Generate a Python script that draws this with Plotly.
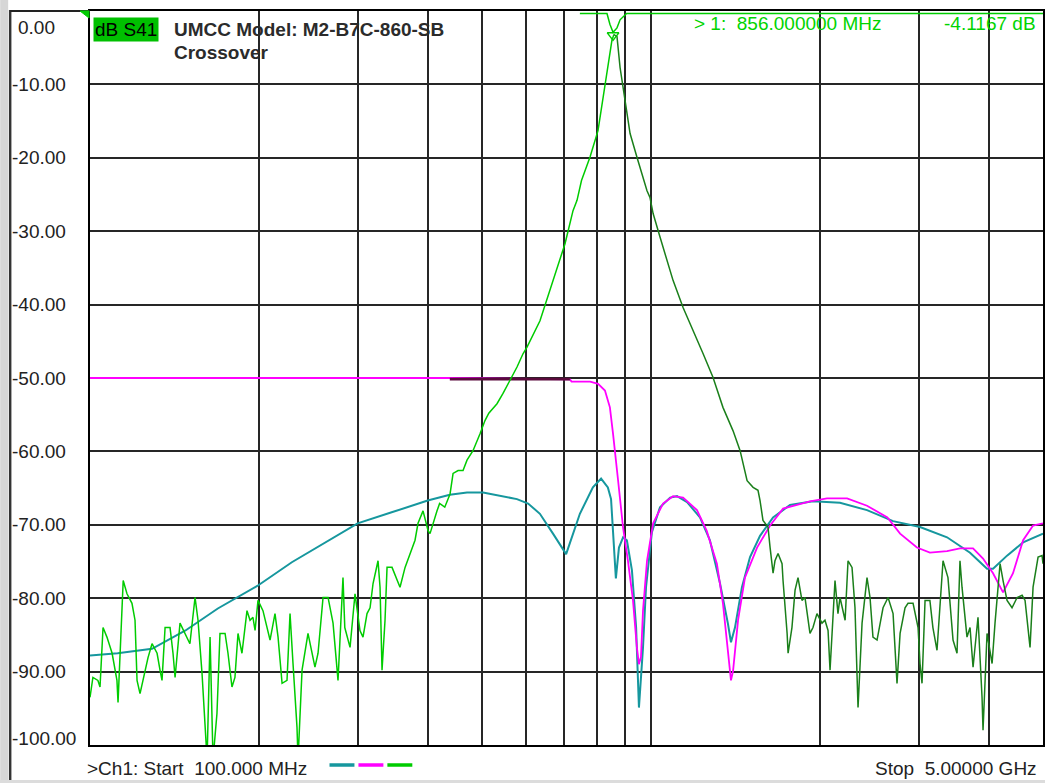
import math
import plotly.graph_objects as go

# ---------------- data (frequency in MHz, level in dB) ----------------
teal_f = [100, 112, 129, 148, 169, 199, 229, 262, 300, 345,
          400, 438, 470, 502, 538, 577, 604, 634, 669, 706,
          747, 788, 815, 838, 849, 856, 866, 877, 892, 906,
          925, 941, 952, 968, 980, 1004, 1038, 1082, 1113, 1160,
          1223, 1274, 1328, 1372, 1389, 1412, 1453, 1502, 1565, 1651,
          1770, 1945, 2173, 2428, 2702, 3018, 3372, 3706, 3974, 4073,
          4314, 4608, 5000]
teal_db = [-87.8, -87.5, -86.9, -84.4, -81.4, -78.3, -75.1, -72.5, -69.8, -68.3,
           -66.7, -65.9, -65.6, -65.6, -66.0, -66.5, -67.1, -68.5, -71.2, -74.0,
           -68.5, -64.9, -63.7, -64.9, -66.5, -70.4, -77.3, -73.1, -71.7, -72.1,
           -76.2, -84.0, -94.9, -86.7, -78.5, -71.0, -67.6, -66.3, -66.1, -66.9,
           -69.0, -72.1, -78.0, -83.5, -86.0, -84.0, -78.5, -74.4, -71.5, -69.0,
           -67.3, -66.8, -67.0, -68.0, -69.5, -70.3, -71.7, -73.8, -76.0, -76.0,
           -74.2, -72.4, -71.2]

mag_f = [100, 438, 717, 722, 779, 805, 828, 845, 856, 866,
         874, 881, 892, 910, 929, 944, 952, 960, 968, 984,
         1009, 1051, 1095, 1141, 1208, 1257, 1311, 1344, 1372, 1389,
         1401, 1430, 1471, 1546, 1631, 1720, 1921, 2060, 2237, 2428,
         2640, 2781, 2980, 3143, 3372, 3556, 3752, 3909, 4073, 4244,
         4421, 4608, 4800, 5000]
mag_db = [-50.0, -50.0, -50.2, -50.5, -50.5, -50.8, -51.7, -54.0, -57.6, -60.8,
          -64.0, -66.5, -70.4, -74.9, -80.3, -86.7, -89.0, -88.0, -81.7, -74.9,
          -69.8, -67.1, -66.1, -66.3, -68.0, -70.8, -75.3, -80.7, -87.5, -91.2,
          -89.9, -83.0, -77.2, -73.1, -70.1, -67.8, -66.8, -66.4, -66.4, -67.4,
          -69.0, -71.2, -73.1, -73.8, -73.6, -73.2, -73.2, -74.6, -76.6, -79.2,
          -76.6, -72.1, -70.1, -69.8]

dark_f = [438, 717]
dark_db = [-50.15, -50.15]

gl_f = [100, 101.2, 103.3, 104.2, 105.5, 107.2, 109.5, 111.7, 112.2, 114,
        114.6, 116.4, 118.8, 120.3, 121.3, 122.8, 124.3, 126.9, 129, 131.7,
        133.3, 134.4, 136.1, 138.9, 140.6, 141.8, 144.7, 147.7, 150.7, 153.9,
        155.8, 158.4, 160.4, 161.7, 163.7, 165.7, 168.4, 170.5, 174.1, 176.2,
        179.1, 181.3, 183.6, 186.6, 190.5, 192.9, 195.2, 196.9, 199.3, 203.4,
        209.4, 213.7, 216.4, 220, 224.5, 227.3, 230.1, 233.9, 234.9, 238.8,
        244.7, 251.8, 255, 260.3, 265.7, 271.2, 276.8, 281.4, 282.5, 284.6,
        290.8, 296.8, 302.9, 306.7, 311.8, 315.7, 319.6, 326.2, 328.9, 331.6,
        335.7, 338.5, 345.5, 357, 364.5, 379.7, 384.4, 392.4, 400.6, 403.8,
        408.8, 415.6, 420, 429, 438.4, 443.9, 453.1, 462.4, 470, 481.7,
        495.8, 506, 514, 531.6, 544.9, 560.7, 577.1, 591.5, 601.3, 634.2,
        669, 702.8, 726.3, 738.3, 752, 778.8, 804.7, 821, 838, 852, 859]
gl_db = [-93.5, -90.8, -91.2, -92.1, -84.0, -85.3, -87.5, -91.2, -94.2, -82.1,
         -77.6, -79.4, -80.7, -83.0, -91.2, -93.0, -91.2, -88.1, -86.2, -87.5,
         -89.8, -91.2, -84.0, -84.0, -87.5, -90.8, -83.4, -84.8, -86.2, -79.9,
         -83.0, -90.3, -97.6, -102, -85.3, -102, -95.7, -84.8, -84.8, -87.5,
         -92.1, -90.8, -84.8, -87.5, -81.7, -83.0, -82.6, -84.4, -80.3, -81.7,
         -85.7, -82.1, -85.3, -91.6, -91.2, -82.1, -88.9, -97.6, -102, -89.8,
         -84.8, -89.4, -87.5, -79.9, -79.9, -83.4, -91.2, -79.9, -77.2, -84.0,
         -86.7, -79.4, -84.4, -85.3, -82.1, -81.3, -78.0, -74.9, -78.5, -89.8,
         -83.0, -75.8, -75.8, -78.5, -75.8, -72.1, -69.8, -68.1, -70.8, -71.2,
         -69.8, -68.1, -67.1, -67.6, -65.8, -63.0, -62.6, -62.6, -61.2, -59.9,
         -57.6, -55.8, -54.8, -53.5, -52.1, -50.3, -48.5, -46.7, -45.8, -42.2,
         -36.7, -31.7, -27.2, -25.8, -23.1, -19.9, -16.3, -12.0, -7.7, -4.0, -3.2]

gr_f = [859, 870, 881, 899, 906, 918, 944, 956, 984, 996,
        1009, 1038, 1068, 1095, 1141, 1189, 1239, 1290, 1344, 1401,
        1442, 1484, 1521, 1552, 1565, 1584, 1617, 1631, 1651, 1664,
        1685, 1713, 1720, 1749, 1756, 1784, 1807, 1829, 1859, 1882,
        1921, 1945, 1977, 2018, 2043, 2069, 2086, 2129, 2155, 2173,
        2219, 2246, 2283, 2311, 2340, 2379, 2428, 2458, 2488, 2530,
        2593, 2647, 2702, 2746, 2781, 2838, 2873, 2933, 2994, 3018,
        3043, 3081, 3143, 3182, 3236, 3317, 3385, 3456, 3513, 3556,
        3586, 3660, 3706, 3752, 3829, 3893, 3909, 3974, 4057, 4106,
        4192, 4244, 4314, 4403, 4496, 4589, 4645, 4741, 4800, 4900,
        4981, 5000]
gr_db = [-3.2, -3.5, -7.7, -12.2, -14.0, -16.7, -19.9, -21.3, -24.5, -25.4,
         -27.6, -30.8, -34.0, -36.7, -40.4, -43.5, -46.7, -49.9, -54.0, -57.2,
         -59.9, -64.0, -64.9, -65.3, -66.7, -69.4, -70.3, -73.1, -76.6, -74.9,
         -73.9, -75.3, -77.6, -84.8, -87.5, -84.0, -78.9, -77.2, -80.3, -79.9,
         -84.8, -84.0, -82.1, -83.4, -83.0, -84.4, -89.8, -77.6, -82.1, -79.9,
         -83.0, -74.9, -75.8, -81.3, -94.9, -83.4, -77.2, -79.9, -85.3, -85.7,
         -81.3, -79.9, -82.1, -91.6, -84.8, -81.3, -80.7, -80.7, -84.0, -88.9,
         -91.6, -80.3, -80.3, -84.0, -87.1, -74.9, -77.2, -85.7, -87.5, -74.9,
         -78.5, -85.3, -84.0, -89.4, -82.6, -93.5, -98.0, -84.8, -88.9, -83.4,
         -75.3, -77.6, -80.3, -81.3, -79.9, -79.6, -80.3, -86.7, -78.5, -74.4,
         -74.2, -75.3]

top_f = [747, 835, 845, 856, 870, 881, 905, 5000]
top_db = [-0.35, -0.35, -1.8, -2.9, -2.3, -1.2, -0.35, -0.35]

marker_f = 856.0
marker_db = -4.1167

x_grid = [100, 200, 300, 400, 500, 600, 700, 800, 900,
          1000, 2000, 3000, 4000, 5000]
y_ticks = [0, -10, -20, -30, -40, -50, -60, -70, -80, -90, -100]

start_label = ">Ch1: Start  100.000 MHz"
stop_label = "Stop  5.00000 GHz"
trace_label = "dB S41"
title_lines = ["UMCC Model: M2-B7C-860-SB", "Crossover"]

# ---------------- styles / layout helpers ----------------
W, H = 1047, 783
L, R, T, B = 90, 2, 11, 38
PW, PH = W - L - R, H - T - B
FONT = "Liberation Sans, Arial, sans-serif"

TEAL = "#16979e"
MAG = "#ff00ff"
GREEN = "#00cc00"
DGREEN = "#1a7f1a"


def px(xp):
    return (xp - L) / PW


def py(yp):
    return (H - B - yp) / PH


fig = go.Figure()
fig.add_trace(go.Scatter(x=teal_f, y=teal_db, mode="lines",
                         line=dict(color=TEAL, width=2)))
fig.add_trace(go.Scatter(x=mag_f, y=mag_db, mode="lines",
                         line=dict(color=MAG, width=1.8)))
fig.add_trace(go.Scatter(x=dark_f, y=dark_db, mode="lines",
                         line=dict(color="#5a0a3c", width=2.6)))
fig.add_trace(go.Scatter(x=gl_f, y=gl_db, mode="lines",
                         line=dict(color=GREEN, width=1.5)))
fig.add_trace(go.Scatter(x=gr_f, y=gr_db, mode="lines",
                         line=dict(color=DGREEN, width=1.5)))
fig.add_trace(go.Scatter(x=top_f, y=top_db, mode="lines",
                         line=dict(color=GREEN, width=1.5)))
fig.add_trace(go.Scatter(x=[marker_f], y=[marker_db + 0.8], mode="markers",
                         marker=dict(symbol="triangle-down-open", size=10,
                                     color=GREEN, line=dict(width=1.5, color=GREEN))))

axis_common = dict(showgrid=True, gridcolor="#262626", gridwidth=2,
                   showline=True, mirror=True, linecolor="black", linewidth=2,
                   zeroline=False, ticks="", showticklabels=False, fixedrange=True)

fig.update_layout(
    width=W, height=H,
    margin=dict(l=L, r=R, t=T, b=B, pad=0),
    paper_bgcolor="white", plot_bgcolor="white",
    showlegend=False,
    font=dict(family=FONT, size=19, color="#222"),
    xaxis=dict(type="log", range=[math.log10(100), math.log10(5000)],
               tickmode="array", tickvals=x_grid, **axis_common),
    yaxis=dict(range=[-100, 0], tickmode="array", tickvals=y_ticks, **axis_common),
)

ann = []
# y-axis labels, left aligned in the frame margin
for v in y_ticks:
    label = f"{v:.2f}" if v != 0 else "0.00"
    ypix = T + (-v) / 100 * PH
    if v == 0:
        ypix = 28
    elif v == -100:
        ypix = 738
    ann.append(dict(text=label, xref="paper", yref="paper",
                    x=px(10 if label.startswith("-") else 16), y=py(ypix),
                    xanchor="left", yanchor="middle", showarrow=False,
                    font=dict(size=19, color="#222", family=FONT)))

ann.append(dict(text=trace_label, xref="paper", yref="paper", x=px(93), y=py(29),
                xanchor="left", yanchor="middle", showarrow=False,
                bgcolor="#00c000", borderpad=1,
                font=dict(size=19, color="black", family=FONT)))
ann.append(dict(text=f"<b>{title_lines[0]}</b>", xref="paper", yref="paper",
                x=px(172), y=py(30), xanchor="left", yanchor="middle", showarrow=False,
                font=dict(size=19, color="#2b2b2b", family=FONT)))
ann.append(dict(text=f"<b>{title_lines[1]}</b>", xref="paper", yref="paper",
                x=px(172), y=py(53), xanchor="left", yanchor="middle", showarrow=False,
                font=dict(size=19, color="#2b2b2b", family=FONT)))
ann.append(dict(text=f"&gt; 1:  {marker_f:.6f} MHz", xref="paper", yref="paper",
                x=px(693), y=py(23), xanchor="left", yanchor="middle", showarrow=False,
                font=dict(size=19, color="#00d400", family=FONT)))
ann.append(dict(text=f"{marker_db:.4f} dB", xref="paper", yref="paper",
                x=px(1040), y=py(23), xanchor="right", yanchor="middle", showarrow=False,
                font=dict(size=19, color="#00d400", family=FONT)))
ann.append(dict(text=start_label.replace(">", "&gt;"), xref="paper", yref="paper",
                x=px(85), y=py(768), xanchor="left", yanchor="middle", showarrow=False,
                font=dict(size=19, color="#222", family=FONT)))
ann.append(dict(text=stop_label, xref="paper", yref="paper",
                x=px(1041), y=py(768), xanchor="right", yanchor="middle", showarrow=False,
                font=dict(size=19, color="#222", family=FONT)))

shapes = []
# left grey strip and frame line
shapes.append(dict(type="rect", xref="paper", yref="paper",
                   x0=px(0), x1=px(8), y0=py(783), y1=py(0),
                   fillcolor="#d6d6d6", line=dict(width=0), layer="above"))
shapes.append(dict(type="line", xref="paper", yref="paper",
                   x0=px(10), x1=px(10), y0=py(783), y1=py(10),
                   line=dict(color="#333", width=2.5), layer="above"))
shapes.append(dict(type="line", xref="paper", yref="paper",
                   x0=px(10), x1=px(90), y0=py(11), y1=py(11),
                   line=dict(color="#222", width=2), layer="above"))
shapes.append(dict(type="rect", xref="paper", yref="paper",
                   x0=px(0), x1=px(1047), y0=py(783), y1=py(780),
                   fillcolor="#dcdcdc", line=dict(width=0), layer="above"))
# reference arrow (top-left)
shapes.append(dict(type="path", xref="paper", yref="paper",
                   path=f"M {px(80)},{py(11)} L {px(89)},{py(11)} L {px(89)},{py(18)} Z",
                   fillcolor=GREEN, line=dict(color=GREEN, width=1), layer="above"))
# trace colour swatches after the start label
for xa, xb, col in [(330, 355, TEAL), (359, 384, MAG), (388, 413, GREEN)]:
    shapes.append(dict(type="line", xref="paper", yref="paper",
                       x0=px(xa), x1=px(xb), y0=py(765), y1=py(765),
                       line=dict(color=col, width=3.5), layer="above"))

fig.update_layout(annotations=ann, shapes=shapes)
fig.write_html("out.html",
               config={"displayModeBar": False, "staticPlot": True},
               post_script="document.body.style.margin='0px';document.body.style.overflow='hidden';")
